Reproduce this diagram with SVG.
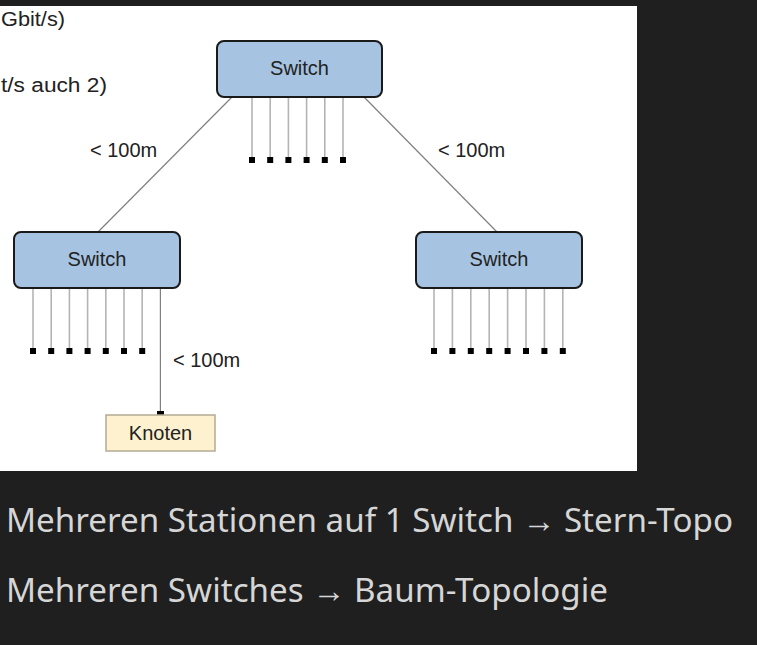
<svg xmlns="http://www.w3.org/2000/svg" width="757" height="645" viewBox="0 0 757 645">
<style>
.sw{fill:#a6c4e2;stroke:#1a1a1a;stroke-width:2}
.lbl{font-family:"Liberation Sans",Arial,sans-serif;font-size:20px;fill:#222}
.port{stroke:#b4b4b4;stroke-width:1.6}
.link{stroke:#808080;stroke-width:1.2;fill:none}
.sq{fill:#000}
.bt{font-family:"Noto Sans","Open Sans",sans-serif;font-size:33px;fill:#d6d6d6}
</style>
<defs>
<rect id="p" x="-3" y="0" width="6" height="6" class="sq"/>
</defs>
<rect x="0" y="0" width="757" height="645" fill="#1f1f1f"/>
<rect x="0" y="6" width="637" height="465" fill="#ffffff"/>
<text class="lbl" x="1" y="26" textLength="64" lengthAdjust="spacingAndGlyphs">Gbit/s)</text>
<text class="lbl" x="1" y="92" textLength="106" lengthAdjust="spacingAndGlyphs">t/s auch 2)</text>
<g id="connectors">
<line class="link" x1="232" y1="97" x2="98" y2="232"/>
<line class="link" x1="364" y1="97" x2="497" y2="232"/>
<line class="link" x1="160.4" y1="288" x2="160.4" y2="414"/>
<text class="lbl" x="90" y="157">&lt; 100m</text>
<text class="lbl" x="438" y="157">&lt; 100m</text>
<text class="lbl" x="173" y="367">&lt; 100m</text>
<rect class="sq" x="157" y="411" width="7" height="4"/>
</g>
<g id="switch-top">
<g class="port">
<line x1="252" y1="97" x2="252" y2="158"/><line x1="270.2" y1="97" x2="270.2" y2="158"/><line x1="288.4" y1="97" x2="288.4" y2="158"/><line x1="306.6" y1="97" x2="306.6" y2="158"/><line x1="324.8" y1="97" x2="324.8" y2="158"/><line x1="343" y1="97" x2="343" y2="158"/>
</g>
<use href="#p" x="252" y="157"/><use href="#p" x="270.2" y="157"/><use href="#p" x="288.4" y="157"/><use href="#p" x="306.6" y="157"/><use href="#p" x="324.8" y="157"/><use href="#p" x="343" y="157"/>
<rect class="sw" x="217" y="41" width="165" height="56" rx="7"/>
<text class="lbl" x="299.5" y="75" text-anchor="middle">Switch</text>
</g>
<g id="switch-left">
<g class="port">
<line x1="33" y1="288" x2="33" y2="349"/><line x1="51.2" y1="288" x2="51.2" y2="349"/><line x1="69.4" y1="288" x2="69.4" y2="349"/><line x1="87.6" y1="288" x2="87.6" y2="349"/><line x1="105.8" y1="288" x2="105.8" y2="349"/><line x1="124" y1="288" x2="124" y2="349"/><line x1="142.2" y1="288" x2="142.2" y2="349"/>
</g>
<use href="#p" x="33" y="348"/><use href="#p" x="51.2" y="348"/><use href="#p" x="69.4" y="348"/><use href="#p" x="87.6" y="348"/><use href="#p" x="105.8" y="348"/><use href="#p" x="124" y="348"/><use href="#p" x="142.2" y="348"/>
<rect class="sw" x="14" y="232" width="166" height="56" rx="7"/>
<text class="lbl" x="97" y="266" text-anchor="middle">Switch</text>
</g>
<g id="switch-right">
<g class="port">
<line x1="434" y1="288" x2="434" y2="349"/><line x1="452.4" y1="288" x2="452.4" y2="349"/><line x1="470.8" y1="288" x2="470.8" y2="349"/><line x1="489.2" y1="288" x2="489.2" y2="349"/><line x1="507.6" y1="288" x2="507.6" y2="349"/><line x1="526" y1="288" x2="526" y2="349"/><line x1="544.4" y1="288" x2="544.4" y2="349"/><line x1="562.8" y1="288" x2="562.8" y2="349"/>
</g>
<use href="#p" x="434" y="348"/><use href="#p" x="452.4" y="348"/><use href="#p" x="470.8" y="348"/><use href="#p" x="489.2" y="348"/><use href="#p" x="507.6" y="348"/><use href="#p" x="526" y="348"/><use href="#p" x="544.4" y="348"/><use href="#p" x="562.8" y="348"/>
<rect class="sw" x="416" y="232" width="166" height="56" rx="7"/>
<text class="lbl" x="499" y="266" text-anchor="middle">Switch</text>
</g>
<g id="knoten">
<rect x="106" y="415" width="109" height="36" fill="#fdf1cf" stroke="#b3ab95" stroke-width="1.5"/>
<text class="lbl" x="160.5" y="440" text-anchor="middle">Knoten</text>
</g>
<text class="bt" x="6" y="532" textLength="727" lengthAdjust="spacingAndGlyphs">Mehreren Stationen auf 1 Switch → Stern-Topo</text>
<text class="bt" x="6" y="602" textLength="602" lengthAdjust="spacingAndGlyphs">Mehreren Switches → Baum-Topologie</text>
</svg>
